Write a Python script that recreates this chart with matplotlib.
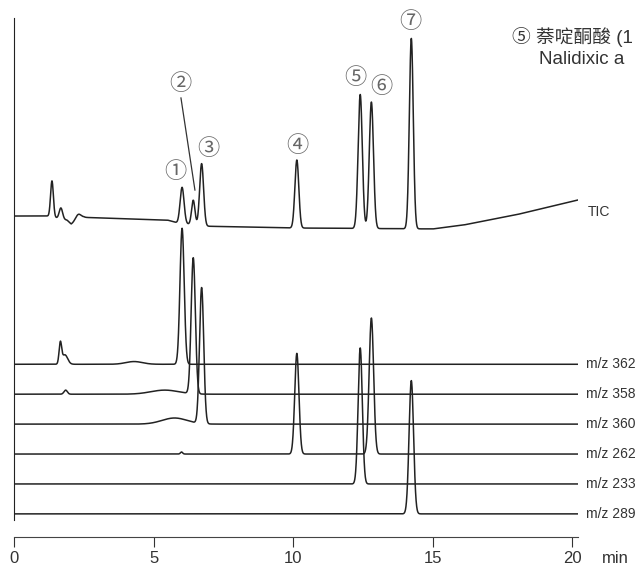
import numpy as np
import matplotlib.pyplot as plt

plt.rcParams['font.family'] = ['Liberation Sans', 'Noto Sans CJK SC', 'DejaVu Sans']

# TIC: baseline drift (rt, level) and peaks (rt, height, sigma)
tic_base_rt = [0, 1.2, 1.9, 2.05, 2.5, 5.5, 5.85, 6.9, 10, 15, 16.1, 18, 20.2]
tic_base_lv = [236, 236, 233, 230, 235, 233, 231, 228.5, 227.2, 226.5, 229.4, 237, 247.8]
tic_peak_rt = [1.36, 1.68, 2.3, 6.02, 6.42, 6.72, 10.13, 12.4, 12.8, 14.23]
tic_peak_h = [26.5, 8, 4.4, 26.5, 18, 45.6, 50, 98.5, 93, 140]
tic_peak_w = [0.05, 0.06, 0.1, 0.07, 0.06, 0.07, 0.07, 0.075, 0.075, 0.07]

# extracted ion chromatograms, top to bottom
mz_labels = ['m/z 362', 'm/z 358', 'm/z 360', 'm/z 262', 'm/z 233', 'm/z 289']
mz_peak_rt = [[1.66, 1.82, 4.3, 6.02],
              [1.85, 5.4, 6.42],
              [5.75, 6.72],
              [6.0, 10.13, 12.8],
              [12.4],
              [14.23]]
mz_peak_h = [[15, 7, 2, 100],
             [3, 3, 100],
             [4.5, 100],
             [1.5, 74, 100],
             [100],
             [98]]
mz_peak_w = [[0.045, 0.1, 0.3, 0.075],
             [0.06, 0.5, 0.075],
             [0.45, 0.075],
             [0.04, 0.075, 0.08],
             [0.075],
             [0.08]]

peak_names = ['①', '②', '③', '④', '⑤', '⑥', '⑦']
name_x = [5.77, 5.95, 6.95, 10.14, 12.21, 13.14, 14.18]
name_y = [268.4, 333.1, 286.0, 288.2, 337.5, 330.9, 378.7]

t = np.linspace(0, 20.2, 5000)


def trace(rts, hs, ws):
    y = np.zeros_like(t)
    for rt, h, w in zip(rts, hs, ws):
        y += h * np.exp(-0.5 * ((t - rt) / w) ** 2)
    return y


fig = plt.figure(figsize=(6.39, 5.65), dpi=100)
ax = fig.add_axes([14 / 639, 28 / 565, 564 / 639, 519 / 565])
ax.set_xlim(0, 20.2)
ax.set_ylim(0, 381.6)

lc = '#222222'
tic = np.interp(t, tic_base_rt, tic_base_lv) + trace(tic_peak_rt, tic_peak_h, tic_peak_w)
ax.plot(t, tic, color=lc, lw=1.1)
ax.text(20.55, 239, 'TIC', fontsize=10, va='center', color='#333333')

for k, lab in enumerate(mz_labels):
    off = 127 - 22 * k
    ax.plot(t, off + trace(mz_peak_rt[k], mz_peak_h[k], mz_peak_w[k]), color=lc, lw=1.1)
    ax.text(20.5, off, lab, fontsize=10, va='center', color='#333333')

for nm, x, y in zip(peak_names, name_x, name_y):
    ax.text(x, y, nm, fontsize=16, ha='center', va='center', color='#666666',
            family=['Noto Sans CJK SC'], clip_on=False)
ax.plot([5.98, 6.48], [322.8, 255.1], color='#333333', lw=0.9)

for s in ['top', 'right']:
    ax.spines[s].set_visible(False)
ax.spines['left'].set_bounds(12.5, 381.6)
ax.spines['left'].set_color('#222222')
ax.spines['bottom'].set_color('#444444')
ax.set_yticks([])
ax.set_xticks([0, 5, 10, 15, 20])
ax.tick_params(axis='x', direction='out', length=7.2, width=0.8, labelsize=12,
               pad=3, colors='#333333')
ax.text(21.06, -10.5, 'min', fontsize=12, va='top', color='#333333')

fig.text(512 / 639, 1 - 37 / 565, '⑤ 萘啶酮酸 (1', fontsize=13.5, va='center', color='#333333')
fig.text(539 / 639, 1 - 59 / 565, 'Nalidixic a', fontsize=13.5, va='center', color='#333333')

fig.savefig('out.png', dpi=100)
